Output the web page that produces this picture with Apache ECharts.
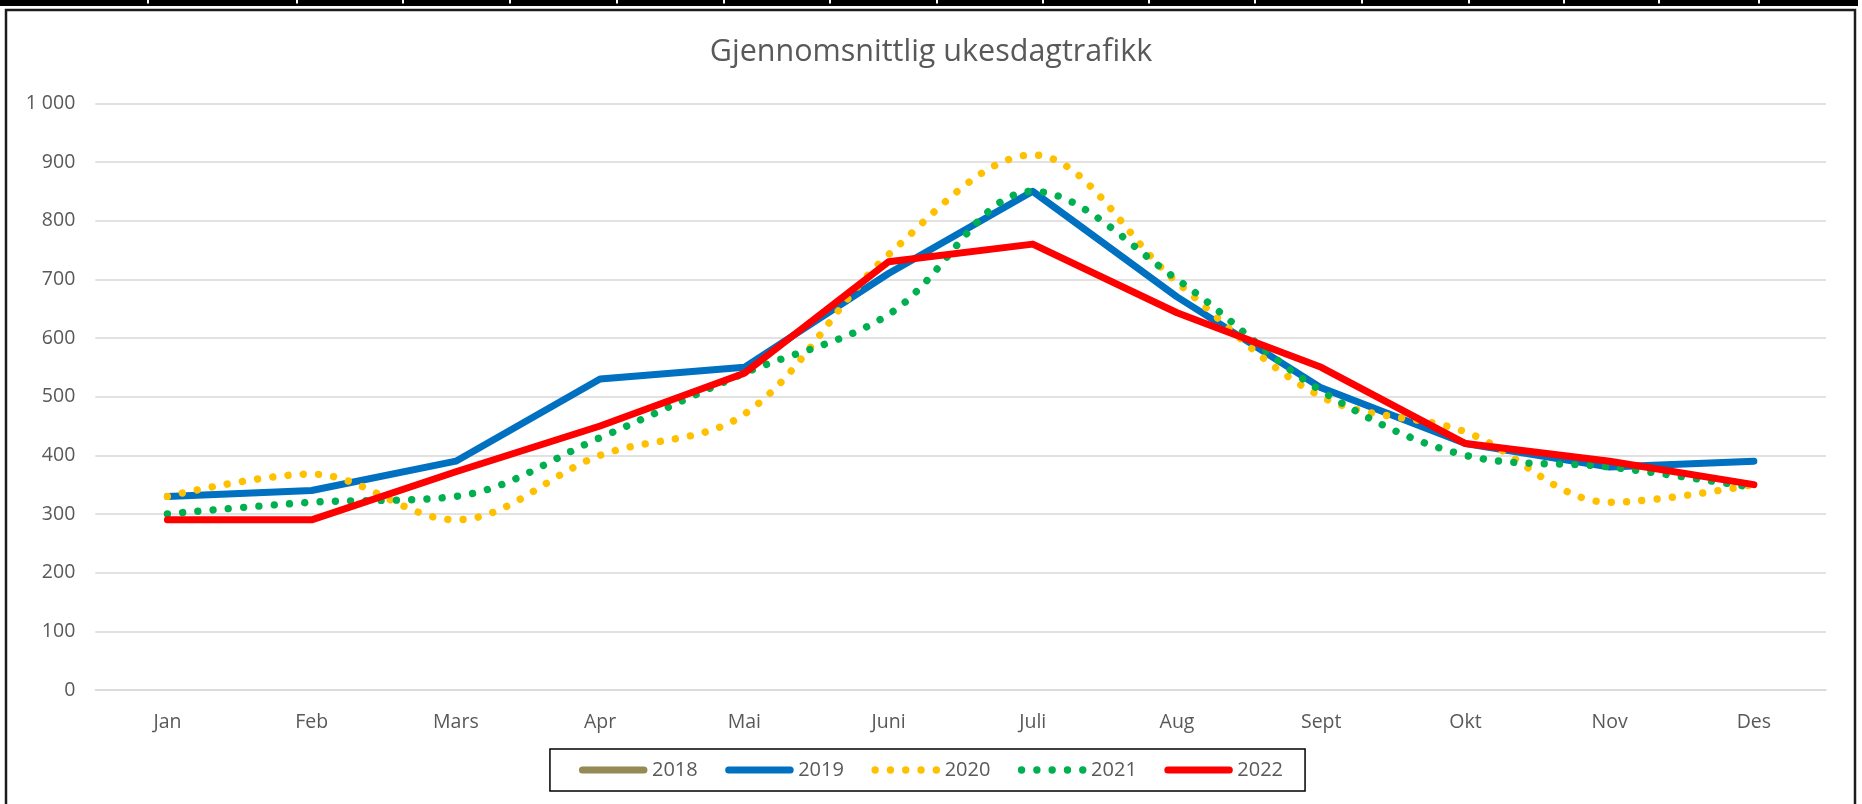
<!DOCTYPE html>
<html>
<head>
<meta charset="utf-8">
<script src="https://cdn.jsdelivr.net/npm/echarts@6/dist/echarts.min.js"></script>
<style>
html,body{margin:0;padding:0;background:#ffffff;}
#chart{width:1862px;height:804px;}
</style>
</head>
<body>
<div id="chart"></div>
<script>
// ---- data ----
const categories = ['Jan','Feb','Mars','Apr','Mai','Juni','Juli','Aug','Sept','Okt','Nov','Des'];
const seriesNames = ['2018','2019','2020','2021','2022'];
const values2018 = [null,null,null,null,null,null,null,null,null,null,null,null];
const values2019 = [330, 340, 390, 530, 550, 710, 850, 670, 515, 420, 380, 390];
const values2020 = [330, 368, 290, 400, 470, 742, 912, 695, 500, 440, 320, 350];
const values2021 = [300, 320, 330, 430, 540, 640, 850, 700, 510, 400, 380, 345];
const values2022 = [290, 290, 372, 450, 540, 730, 760, 643, 550, 420, 390, 350];
const yMin = 0, yMax = 1000, yStep = 100;
const titleText = 'Gjennomsnittlig ukesdagtrafikk';

// ---- styles ----
const FONT = '"Open Sans", "Noto Sans", sans-serif';
const TEXT = '#595959';
const colors = ['#948A54', '#0070C0', '#FFC000', '#00B050', '#FF0000'];
const topDividers = [148, 297, 403, 510, 617, 724, 830, 937, 1043, 1149, 1255, 1362, 1469, 1564, 1659, 1759];

function fitFont(text, target, family) {
  const c = document.createElement('canvas').getContext('2d');
  c.font = '100px ' + family;
  const w = c.measureText(text).width;
  return Math.round(100 * target / w * 10) / 10;
}
const titleSize = fitFont(titleText, 443, FONT);

function fmt(v) {
  return String(v).replace(/\B(?=(\d{3})+(?!\d))/g, '\u00a0');
}

const solid = (w) => ({ width: w, type: 'solid', cap: 'round', join: 'round' });
const dots = (w) => ({ width: w, type: [0.001, 15.3], cap: 'round', join: 'round' });

const dataSets = [values2018, values2019, values2020, values2021, values2022];
const styles = [solid(7), solid(7), dots(7.4), dots(7.4), solid(7)];
const smooth = [false, false, 0.35, 0.35, false];

const series = seriesNames.map((name, i) => ({
  name: name,
  type: 'line',
  data: dataSets[i],
  symbol: 'none',
  smooth: smooth[i],
  color: colors[i],
  lineStyle: Object.assign({ color: colors[i] }, styles[i]),
  emphasis: { disabled: true },
  z: 2 + i
}));

const graphics = [
  { type: 'rect', shape: { x: 0, y: 0, width: 1858, height: 6 }, style: { fill: '#000' }, silent: true, z: 10 }
].concat(topDividers.map(x => ({
  type: 'rect', shape: { x: x - 1, y: 0, width: 2, height: 3.5 }, style: { fill: '#ffffff' }, silent: true, z: 11
}))).concat([
  { type: 'rect', shape: { x: 6, y: 10, width: 1849, height: 820 }, style: { fill: null, stroke: '#1c1c1c', lineWidth: 2.5 }, silent: true, z: 10 }
]);

const chart = echarts.init(document.getElementById('chart'), null, { renderer: 'canvas' });
chart.setOption({
  animation: false,
  backgroundColor: '#ffffff',
  title: {
    text: titleText,
    left: 'center',
    top: 36,
    padding: 0,
    textStyle: { fontFamily: FONT, fontSize: titleSize, fontWeight: 'normal', color: TEXT, lineHeight: 32 }
  },
  legend: {
    data: seriesNames,
    left: 'center',
    top: 749,
    padding: [11, 22, 11, 29],
    itemGap: 27.5,
    itemWidth: 61.5,
    itemHeight: 14,
    borderColor: '#000',
    borderWidth: 1.5,
    itemStyle: { opacity: 0 },
    lineStyle: { width: 'inherit', type: 'inherit', cap: 'inherit' },
    textStyle: { fontFamily: FONT, fontSize: 20, color: TEXT, padding: [0, 0, 0, 3] },
    selectedMode: false
  },
  grid: { left: 95.3, right: 36, top: 103.3, bottom: 114 },
  xAxis: {
    type: 'category',
    data: categories,
    boundaryGap: true,
    axisLine: { show: true, lineStyle: { color: '#D9D9D9', width: 1.5 } },
    axisTick: { show: false },
    axisLabel: { fontFamily: FONT, fontSize: 19.5, color: TEXT, margin: 22 },
    splitLine: { show: false }
  },
  yAxis: {
    type: 'value',
    min: yMin,
    max: yMax,
    interval: yStep,
    axisLine: { show: false },
    axisTick: { show: false },
    axisLabel: { fontFamily: FONT, fontSize: 19.5, color: TEXT, margin: 20, formatter: fmt },
    splitLine: { show: true, lineStyle: { color: '#D9D9D9', width: 1.5 } }
  },
  graphic: graphics,
  series: series
});
</script>
</body>
</html>
